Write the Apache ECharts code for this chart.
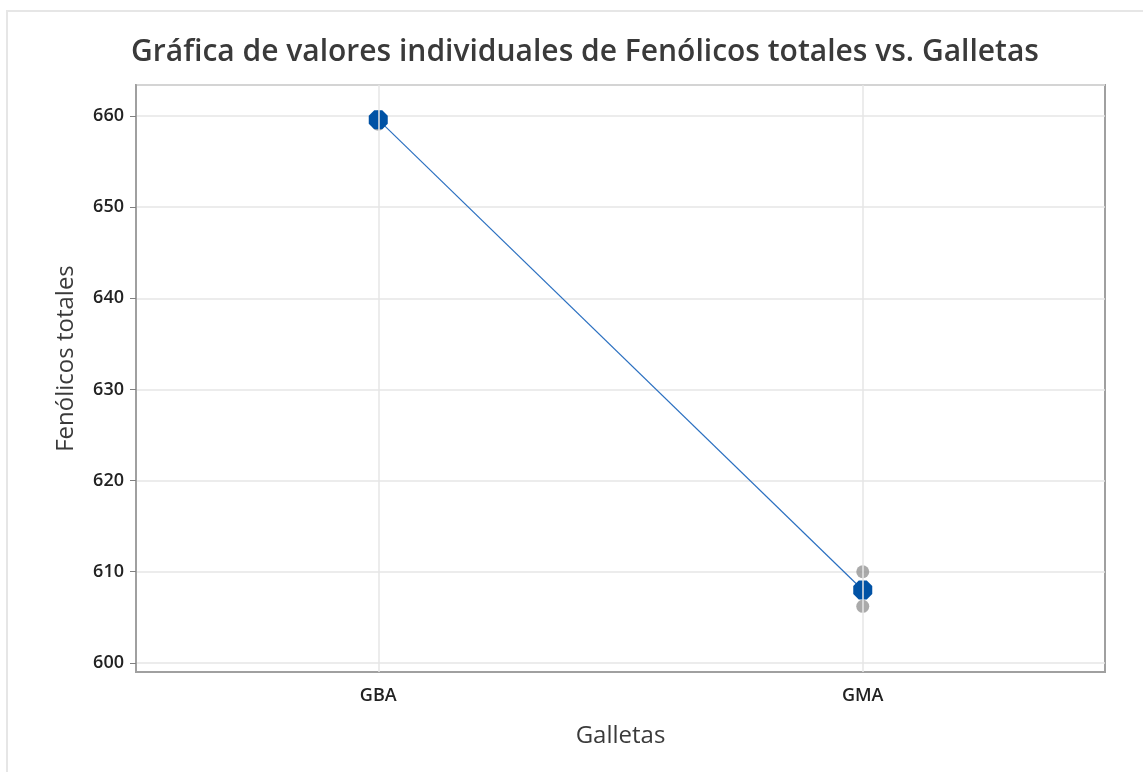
<!DOCTYPE html>
<html>
<head>
<meta charset="utf-8">
<script src="https://cdn.jsdelivr.net/npm/echarts@6/dist/echarts.min.js"></script>
<style>
  html, body { margin: 0; padding: 0; background: #fff; }
  .frame { position: absolute; left: 6px; top: 10px; width: 1160px; height: 800px;
           border-left: 2px solid #e6e6e6; border-top: 2px solid #e6e6e6; }
  #chart { position: absolute; left: 0; top: 0; width: 1143px; height: 772px; }
</style>
</head>
<body>
<div class="frame"></div>
<div id="chart"></div>
<script>
const categories = ['GBA', 'GMA']
const gbaValues = [659.1, 659.8, 659.9]
const gmaValues = [610.0, 608.0, 606.2]
const meanValues = [659.6, 608.0]

const font = '"Open Sans", "DejaVu Sans", sans-serif'
const chart = echarts.init(document.getElementById('chart'))

const points = []
gbaValues.forEach(v => points.push([categories[0], v]))
gmaValues.forEach(v => points.push([categories[1], v]))

const octagon = 'path://M0.29,0 L0.71,0 L1,0.29 L1,0.71 L0.71,1 L0.29,1 L0,0.71 L0,0.29 Z'

chart.setOption({
  animation: false,
  title: {
    text: 'Gráfica de valores individuales de Fenólicos totales vs. Galletas',
    left: 580, top: 32, textAlign: 'center',
    textStyle: { fontFamily: font, fontSize: 30, fontWeight: 600, color: '#3a3a3a' }
  },
  grid: {
    left: 136, right: 38, top: 85, bottom: 100,
    show: true, borderColor: '#a0a0a0', borderWidth: 2
  },
  xAxis: {
    type: 'category',
    data: categories,
    boundaryGap: true,
    name: 'Galletas',
    nameLocation: 'middle',
    nameGap: 52,
    nameTextStyle: { fontFamily: font, fontSize: 24, color: '#3a3a3a' },
    axisLine: { lineStyle: { color: '#a0a0a0', width: 2 } },
    axisTick: { alignWithLabel: true, length: 6, lineStyle: { color: '#808080' } },
    axisLabel: { fontFamily: font, fontSize: 18, fontWeight: 600, color: '#222', margin: 15 },
    splitLine: { show: false }
  },
  yAxis: {
    type: 'value',
    min: 599,
    max: 663.4,
    splitNumber: 6,
    name: 'Fenólicos totales',
    nameLocation: 'middle',
    nameGap: 58,
    nameTextStyle: { fontFamily: font, fontSize: 24, color: '#3a3a3a', padding: [0, 0, 0, 40] },
    axisLine: { show: true, lineStyle: { color: '#a0a0a0', width: 2 } },
    axisTick: { show: true, length: 6, lineStyle: { color: '#808080' } },
    axisLabel: { fontFamily: font, fontSize: 18, fontWeight: 600, color: '#222', margin: 12,
                 showMinLabel: false, showMaxLabel: false },
    splitLine: { lineStyle: { color: '#e6e6e6', width: 1.5 } }
  },
  series: [
    {
      type: 'scatter',
      z: 2,
      data: points,
      symbolSize: 13,
      itemStyle: { color: '#959595' },
      markLine: {
        silent: true,
        symbol: 'none',
        label: { show: false },
        lineStyle: { color: '#e6e6e6', width: 1.5, type: 'solid' },
        data: categories.map(c => ({ xAxis: c }))
      }
    },
    {
      type: 'line',
      z: 3,
      data: categories.map((c, i) => [c, meanValues[i]]),
      symbol: octagon,
      symbolSize: 19,
      showSymbol: true,
      lineStyle: { color: '#2a6fc0', width: 1.2 },
      itemStyle: { color: '#0052a5' }
    }
  ]
})
</script>
</body>
</html>
